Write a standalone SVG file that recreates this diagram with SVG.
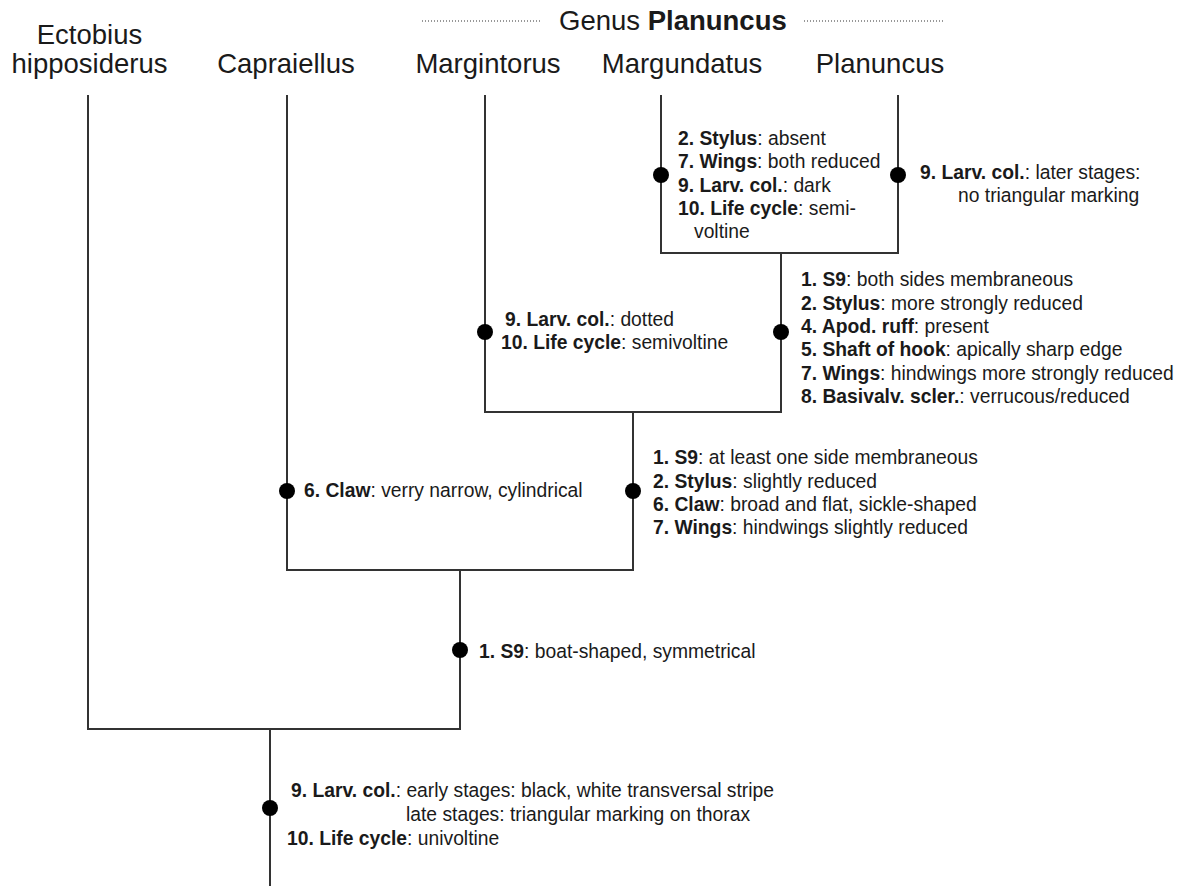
<svg xmlns="http://www.w3.org/2000/svg" width="1184" height="886" viewBox="0 0 1184 886">
<style>
.tax{font-family:"Liberation Sans",Arial,sans-serif;font-size:27.5px;fill:#1a1a1a;text-anchor:middle}
.ann{font-family:"Liberation Sans",Arial,sans-serif;font-size:19.3px;fill:#1a1a1a}
.b{font-weight:bold}
.br{fill:none;stroke:#333;stroke-width:2;stroke-linecap:square}
.dot{fill:#000}
.dots{stroke:#777;stroke-width:1.4;stroke-dasharray:1 2}
</style>
<rect width="1184" height="886" fill="#fff"/>
<g id="genus-header">
<line class="dots" x1="422" y1="21" x2="540" y2="21"/>
<line class="dots" x1="804" y1="21" x2="944" y2="21"/>
<text class="tax" x="559" y="30" style="text-anchor:start">Genus <tspan class="b">Planuncus</tspan></text>
</g>
<g id="node-ectobius"><text class="tax" x="89.5" y="44">Ectobius</text><text class="tax" x="89.5" y="73">hipposiderus</text></g>
<g id="node-capraiellus"><text class="tax" x="286" y="73">Capraiellus</text></g>
<g id="node-margintorus"><text class="tax" x="488" y="73">Margintorus</text></g>
<g id="node-margundatus"><text class="tax" x="682" y="73">Margundatus</text></g>
<g id="node-planuncus"><text class="tax" x="880" y="73">Planuncus</text></g>
<g id="connectors">
<path class="br" d="M661,96 V253 H898 V96"/>
<path class="br" d="M485,96 V412 H781 V253"/>
<path class="br" d="M287,96 V570 H633 V412"/>
<path class="br" d="M88,96 V729 H460 V570"/>
<path class="br" d="M270,729 V886"/>
</g>
<g id="markers">
<circle class="dot" cx="661" cy="175" r="8"/>
<circle class="dot" cx="898" cy="175" r="8"/>
<circle class="dot" cx="485" cy="332" r="8"/>
<circle class="dot" cx="781" cy="332" r="8"/>
<circle class="dot" cx="287" cy="491" r="8"/>
<circle class="dot" cx="633" cy="491" r="8"/>
<circle class="dot" cx="460" cy="650" r="8"/>
<circle class="dot" cx="270" cy="808" r="8"/>
</g>
<g id="ann-margundatus" class="ann">
<text x="678" y="145"><tspan class="b">2. Stylus</tspan>: absent</text>
<text x="678" y="168"><tspan class="b">7. Wings</tspan>: both reduced</text>
<text x="678" y="191.5"><tspan class="b">9. Larv. col.</tspan>: dark</text>
<text x="678" y="215"><tspan class="b">10. Life cycle</tspan>: semi-</text>
<text x="694" y="238">voltine</text>
</g>
<g id="ann-planuncus" class="ann">
<text x="920" y="179"><tspan class="b">9. Larv. col.</tspan>: later stages:</text>
<text x="958" y="202">no triangular marking</text>
</g>
<g id="ann-margundatus-planuncus" class="ann">
<text x="801" y="286"><tspan class="b">1. S9</tspan>: both sides membraneous</text>
<text x="801" y="309.5"><tspan class="b">2. Stylus</tspan>: more strongly reduced</text>
<text x="801" y="333"><tspan class="b">4. Apod. ruff</tspan>: present</text>
<text x="801" y="356"><tspan class="b">5. Shaft of hook</tspan>: apically sharp edge</text>
<text x="801" y="379.5"><tspan class="b">7. Wings</tspan>: hindwings more strongly reduced</text>
<text x="801" y="403"><tspan class="b">8. Basivalv. scler.</tspan>: verrucous/reduced</text>
</g>
<g id="ann-margintorus" class="ann">
<text x="505" y="326"><tspan class="b">9. Larv. col.</tspan>: dotted</text>
<text x="501" y="349"><tspan class="b">10. Life cycle</tspan>: semivoltine</text>
</g>
<g id="ann-planuncus-genus" class="ann">
<text x="653" y="464"><tspan class="b">1. S9</tspan>: at least one side membraneous</text>
<text x="653" y="487.5"><tspan class="b">2. Stylus</tspan>: slightly reduced</text>
<text x="653" y="511"><tspan class="b">6. Claw</tspan>: broad and flat, sickle-shaped</text>
<text x="653" y="534"><tspan class="b">7. Wings</tspan>: hindwings slightly reduced</text>
</g>
<g id="ann-capraiellus" class="ann">
<text x="304" y="497"><tspan class="b">6. Claw</tspan>: verry narrow, cylindrical</text>
</g>
<g id="ann-ingroup" class="ann">
<text x="479" y="658"><tspan class="b">1. S9</tspan>: boat-shaped, symmetrical</text>
</g>
<g id="ann-root" class="ann">
<text x="291" y="797"><tspan class="b">9. Larv. col.</tspan>: early stages: black, white transversal stripe</text>
<text x="406" y="821">late stages: triangular marking on thorax</text>
<text x="287" y="845"><tspan class="b">10. Life cycle</tspan>: univoltine</text>
</g>
</svg>
